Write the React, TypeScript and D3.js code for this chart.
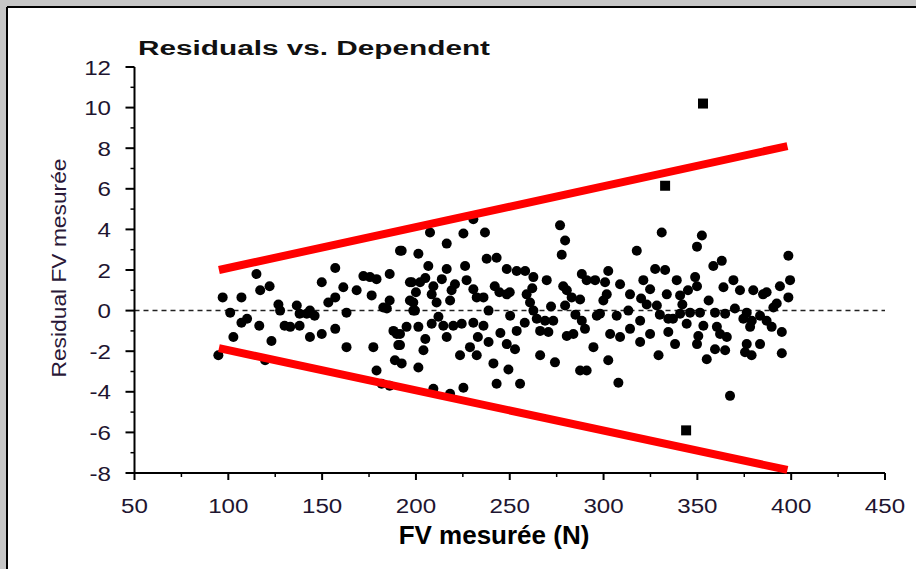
import React from "react";
import * as d3 from "d3";

// ---- data ----
const residualX: number[] = [
  115, 117, 122, 97, 107, 101, 110, 107, 116.5, 102.7, 123, 94.7, 119.6, 126.7, 127.6, 130, 133, 136.5, 138, 141.8,
  143.5, 146, 138, 143.5, 149.8, 157, 149.8, 157, 153.3, 157, 161.3, 168.4, 163, 163, 176.4, 172, 175.5, 179, 186, 182.6,
  186, 184.5, 188, 189.8, 177.3, 190.6, 188.8, 179, 191.5, 197.8, 196.8, 198.6, 181.7, 186,
  276.8, 279.5, 277.7, 230.6, 236.8, 225.3, 216.4, 207.5, 192.4, 201.3, 206.6, 216.4, 226.2, 237.7, 243, 248.4, 253.7,
  258.2, 262.6, 269.7, 288.4, 196.8, 202.2, 209.3, 213.8, 220.8, 208.4, 219, 230.6, 232.4, 244.5, 250, 248.4, 236,
  198.6, 199.5, 218.2, 259, 260.8, 262.6, 278.5, 280.4, 283, 287.5, 291, 295.5, 279.5, 238.7, 250.2, 264.4, 268.8,
  273.2, 288.4, 296.4, 195, 201.3, 208.4, 214.6, 219.9, 224.4, 230.6, 236, 253.7, 266.2, 270.6, 280.4, 283.9, 290.1,
  191.5, 216.4, 238.7, 248.4, 252.8, 294.6, 191.5, 204, 228.8, 223.5, 232.4, 266.2, 274.1, 241.3, 249.3, 201.3, 192.4,
  287.5, 291, 243, 255.5, 225.3, 209.3, 218.2,
  331, 352.4, 349.8, 317.7, 398.5, 363, 358.5, 302.5, 327.5, 332.8, 339, 348.8, 349.8, 369.2, 363.9, 399.4, 394, 321.2,
  308.8, 300.8, 372.7, 379.8, 386.9, 314.1, 324.8, 333.7, 340.8, 301.7, 398.5, 392.3, 323, 328.4, 299.9, 390.5, 298.1,
  307, 313.2, 334.5, 340.8, 346.1, 351.4, 359.4, 364.8, 376.3, 383.4, 374.5, 379, 386.9, 319.5, 344.3, 353.2, 360.4,
  378.1, 389.6, 314.1, 324.8, 334.5, 350.5, 362.1, 365.7, 303.5, 308.8, 395, 319.5, 338.1, 349.8, 376.3, 383.4, 359.4,
  364.8, 375.4, 378.9, 395, 329.3, 355, 302.5, 307.9, 367.4,
  200, 205, 211, 227, 242, 262, 272, 285, 258, 245, 233, 212, 205, 320, 330, 342, 356, 370, 385, 337, 345,
];
const residualY: number[] = [
  1.8, 1.0, 1.2, 0.65, 0.65, -0.1, -0.4, -0.6, -0.75, -1.3, -1.5, -2.2, -2.45, 0.3, 0, -0.75, -0.8, 0.25, -0.15, -0.15,
  0, -0.25, -0.75, -1.3, -1.15, -0.9, 1.4, 2.1, 0.4, 0.65, 1.15, 1.0, -0.1, -1.8, 0.75, 1.7, 1.65, 1.55, 1.8, 0.15,
  0.5, 0.1, -1.0, -1.15, -1.8, -1.7, -2.45, -2.95, 2.95, 1.4, 0.5, 0, -3.6, -3.7,
  4.2, 3.45, 2.75, 4.5, 3.85, 3.8, 3.3, 3.85, 2.95, 2.8, 2.2, 2.05, 2.2, 2.55, 2.6, 2.05, 1.95,
  1.95, 1.65, 1.5, 1.8, 1.4, 1.4, 1.2, 1.55, 1.3, 0.8, 1.0, 1.05, 0.65, 0.9, 0.9, 0.8, 0.65,
  0.4, 0, 0.5, 0.8, 0.4, 0, 1.2, 1.0, 0.65, 0.55, 1.5, 1.5, 0.25, 0, -0.25, -0.4, -0.5,
  -0.5, -0.5, -0.25, -0.8, -0.8, -0.65, -0.75, -0.75, -0.65, -0.6, -0.75, -1.0, -1.0, -1.05, -1.25, -1.15, -0.9,
  -1.15, -1.3, -1.55, -1.65, -1.9, -1.8, -1.7, -1.95, -1.8, -2.2, -2.2, -2.2, -2.55, -2.6, -2.9, -2.8, -2.6,
  -2.95, -2.95, -3.6, -3.6, -3.8, -3.85, -4.1,
  3.85, 3.7, 3.15, 2.95, 2.7, 2.45, 2.2, 1.95, 2.05, 2.0, 1.5, 1.65, 1.2, 1.5, 1.15, 1.5, 1.2, 1.5,
  1.3, 1.4, 1.0, 1.0, 0.9, 0.8, 1.05, 0.8, 0.75, 0.8, 0.65, 0.35, 0.3, 0.25, 0.5, 0.15, -0.15,
  -0.25, 0, -0.4, -0.15, -0.1, -0.1, -0.1, -0.15, -0.1, -0.25, -0.4, -0.5, -0.5, -0.5, -0.65, -0.75, -0.8,
  -0.8, -0.8, -0.9, -1.15, -1.05, -1.25, -1.15, -1.3, -1.15, -1.3, -1.05, -1.55, -1.65, -1.65, -1.65, -1.65, -1.9,
  -1.95, -2.05, -2.2, -2.1, -2.2, -2.4, -2.45, -3.55, -4.2,
  0.9, 1.6, 0.4, 1.5, 1.2, 1.1, 0.2, -0.2, -0.6, -1.1, -1.3, -0.3, -1.4, 0.6, -0.2, 0.3, 0.5, 0.1, 0.8, -0.4, 1.0,
];
const outlierX: number[] = [332.8, 353, 344];
const outlierY: number[] = [6.15, 10.2, -5.9];

const boundX: number[] = [95, 398];
const upperBound: number[] = [2.0, 8.1];
const lowerBound: number[] = [-1.85, -7.85];

const xTicks: number[] = [50, 100, 150, 200, 250, 300, 350, 400, 450];
const xMinor: number[] = [75, 125, 175, 225, 275, 325, 375, 425];
const yTicks: number[] = [-8, -6, -4, -2, 0, 2, 4, 6, 8, 10, 12];
const yMinor: number[] = [-7, -5, -3, -1, 1, 3, 5, 7, 9, 11];

const W = 916;
const H = 569;

export default function App() {
  const x = d3.scaleLinear().domain([50, 450]).range([134.5, 885]);
  const y = d3.scaleLinear().domain([-8, 12]).range([473, 67]);
  const line = d3
    .line<number>()
    .x((_, i) => x(boundX[i]))
    .y((d) => y(d));
  const tickFont = "'Liberation Sans', Arial, sans-serif";
  const tickColor = "#1e1530";
  return (
    <svg width={W} height={H} style={{ position: "absolute", left: 0, top: 0 }}>
      <rect x={0} y={0} width={W} height={H} fill="#c6c6c6" />
      <rect x={7} y={7} width={W} height={H} fill="#ffffff" />
      <line x1={7} y1={7} x2={W} y2={7} stroke="#000" strokeWidth={2} />
      <line x1={7} y1={7} x2={7} y2={H} stroke="#000" strokeWidth={2} />

      {/* title */}
      <text
        x={138}
        y={55}
        fontFamily={tickFont}
        fontWeight="bold"
        fontSize={20}
        fill="#111"
        textLength={352}
        lengthAdjust="spacingAndGlyphs"
      >
        Residuals vs. Dependent
      </text>

      {/* zero reference line */}
      <line
        x1={x(50)}
        x2={x(450)}
        y1={y(0)}
        y2={y(0)}
        stroke="#222"
        strokeWidth={1.5}
        strokeDasharray="5,4"
      />

      {/* axes */}
      <line x1={x(50)} x2={x(50)} y1={y(12)} y2={y(-8)} stroke="#000" strokeWidth={2} />
      <line x1={x(50) - 8} x2={x(450)} y1={y(-8)} y2={y(-8)} stroke="#000" strokeWidth={2} />
      {yTicks.map((t) => (
        <g key={"yt" + t}>
          <line x1={x(50) - 9} x2={x(50)} y1={y(t)} y2={y(t)} stroke="#000" strokeWidth={2} />
          <text
            transform={`translate(111,${y(t) + 7.5}) scale(1.15,1)`}
            textAnchor="end"
            fontFamily={tickFont}
            fontSize={21}
            fill={tickColor}
          >
            {t}
          </text>
        </g>
      ))}
      {yMinor.map((t) => (
        <line key={"ym" + t} x1={x(50) - 4} x2={x(50)} y1={y(t)} y2={y(t)} stroke="#000" strokeWidth={1.5} />
      ))}
      {xTicks.map((t) => (
        <g key={"xt" + t}>
          <line x1={x(t)} x2={x(t)} y1={y(-8)} y2={y(-8) + 7} stroke="#000" strokeWidth={2} />
          <text
            transform={`translate(${x(t)},513) scale(1.15,1)`}
            textAnchor="middle"
            fontFamily={tickFont}
            fontSize={21}
            fill={tickColor}
          >
            {t}
          </text>
        </g>
      ))}
      {xMinor.map((t) => (
        <line key={"xm" + t} x1={x(t)} x2={x(t)} y1={y(-8)} y2={y(-8) + 4} stroke="#000" strokeWidth={1.5} />
      ))}

      {/* axis labels */}
      <text
        transform={`translate(66,268) rotate(-90)`}
        textAnchor="middle"
        fontFamily={tickFont}
        fontSize={21}
        fill="#2a1838"
        textLength={219}
        lengthAdjust="spacingAndGlyphs"
      >
        Residual FV mesurée
      </text>
      <text
        x={494}
        y={544}
        textAnchor="middle"
        fontFamily={tickFont}
        fontWeight="bold"
        fontSize={26}
        fill="#000"
      >
        FV mesurée (N)
      </text>

      {/* points */}
      {residualX.map((v, i) => (
        <circle key={"p" + i} cx={x(v)} cy={y(residualY[i])} r={5} fill="#000" />
      ))}
      {outlierX.map((v, i) => (
        <rect key={"o" + i} x={x(v) - 5} y={y(outlierY[i]) - 5} width={10} height={10} fill="#000" />
      ))}

      {/* bounds */}
      <path d={line(upperBound) || ""} stroke="#ff0000" strokeWidth={8} fill="none" />
      <path d={line(lowerBound) || ""} stroke="#ff0000" strokeWidth={8} fill="none" />
    </svg>
  );
}
